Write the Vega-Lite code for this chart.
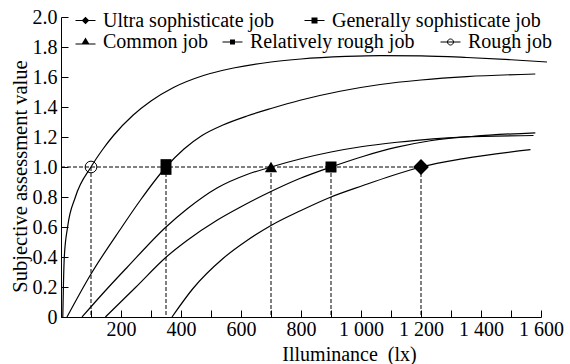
{
  "$schema": "https://vega.github.io/schema/vega-lite/v6.json",
  "width": 480,
  "height": 300,
  "autosize": "none",
  "padding": {"left": 61, "top": 17, "right": 29, "bottom": 47},
  "background": "white",
  "config": {
    "view": {"stroke": null},
    "font": "Liberation Serif",
    "axis": {
      "labelFont": "Liberation Serif",
      "labelFontSize": 20,
      "labelColor": "black",
      "titleFont": "Liberation Serif",
      "titleFontSize": 20,
      "titleFontWeight": "normal",
      "titleColor": "black",
      "domainColor": "black",
      "domainWidth": 1,
      "tickColor": "black",
      "tickWidth": 1,
      "tickSize": -7,
      "grid": false
    },
    "legend": {
      "padding": 0,
      "labelFont": "Liberation Serif",
      "labelFontSize": 20,
      "labelColor": "black",
      "labelOffset": 7,
      "labelLimit": 400,
      "symbolSize": 400,
      "symbolStrokeWidth": 1,
      "symbolOpacity": 1
    }
  },
  "datasets": {
    "curves": [
      {"job": "Rough job", "x": 6, "y": 0},
      {"job": "Rough job", "x": 8, "y": 0.2},
      {"job": "Rough job", "x": 11, "y": 0.4},
      {"job": "Rough job", "x": 22, "y": 0.6},
      {"job": "Rough job", "x": 48, "y": 0.8},
      {"job": "Rough job", "x": 100, "y": 1.0},
      {"job": "Rough job", "x": 140, "y": 1.12},
      {"job": "Rough job", "x": 175, "y": 1.21},
      {"job": "Rough job", "x": 240, "y": 1.345},
      {"job": "Rough job", "x": 300, "y": 1.44},
      {"job": "Rough job", "x": 375, "y": 1.53},
      {"job": "Rough job", "x": 475, "y": 1.61},
      {"job": "Rough job", "x": 575, "y": 1.66},
      {"job": "Rough job", "x": 700, "y": 1.7},
      {"job": "Rough job", "x": 800, "y": 1.72},
      {"job": "Rough job", "x": 950, "y": 1.737},
      {"job": "Rough job", "x": 1064, "y": 1.743},
      {"job": "Rough job", "x": 1200, "y": 1.741},
      {"job": "Rough job", "x": 1353, "y": 1.73},
      {"job": "Rough job", "x": 1500, "y": 1.715},
      {"job": "Rough job", "x": 1620, "y": 1.7},
      {"job": "Generally sophisticate job", "x": 20, "y": 0},
      {"job": "Generally sophisticate job", "x": 98, "y": 0.28},
      {"job": "Generally sophisticate job", "x": 203, "y": 0.6},
      {"job": "Generally sophisticate job", "x": 265, "y": 0.78},
      {"job": "Generally sophisticate job", "x": 350, "y": 1.0},
      {"job": "Generally sophisticate job", "x": 410, "y": 1.12},
      {"job": "Generally sophisticate job", "x": 470, "y": 1.21},
      {"job": "Generally sophisticate job", "x": 540, "y": 1.28},
      {"job": "Generally sophisticate job", "x": 620, "y": 1.34},
      {"job": "Generally sophisticate job", "x": 700, "y": 1.39},
      {"job": "Generally sophisticate job", "x": 797, "y": 1.445},
      {"job": "Generally sophisticate job", "x": 930, "y": 1.505},
      {"job": "Generally sophisticate job", "x": 1064, "y": 1.55},
      {"job": "Generally sophisticate job", "x": 1200, "y": 1.58},
      {"job": "Generally sophisticate job", "x": 1353, "y": 1.603},
      {"job": "Generally sophisticate job", "x": 1581, "y": 1.62},
      {"job": "Common job", "x": 70, "y": 0},
      {"job": "Common job", "x": 150, "y": 0.18},
      {"job": "Common job", "x": 220, "y": 0.33},
      {"job": "Common job", "x": 350, "y": 0.6},
      {"job": "Common job", "x": 420, "y": 0.72},
      {"job": "Common job", "x": 520, "y": 0.86},
      {"job": "Common job", "x": 620, "y": 0.95},
      {"job": "Common job", "x": 700, "y": 1.0},
      {"job": "Common job", "x": 800, "y": 1.055},
      {"job": "Common job", "x": 900, "y": 1.1},
      {"job": "Common job", "x": 1000, "y": 1.135},
      {"job": "Common job", "x": 1120, "y": 1.165},
      {"job": "Common job", "x": 1240, "y": 1.188},
      {"job": "Common job", "x": 1340, "y": 1.2},
      {"job": "Common job", "x": 1575, "y": 1.21},
      {"job": "Relatively rough job", "x": 148, "y": 0},
      {"job": "Relatively rough job", "x": 250, "y": 0.2},
      {"job": "Relatively rough job", "x": 351, "y": 0.4},
      {"job": "Relatively rough job", "x": 420, "y": 0.51},
      {"job": "Relatively rough job", "x": 520, "y": 0.645},
      {"job": "Relatively rough job", "x": 600, "y": 0.735},
      {"job": "Relatively rough job", "x": 698, "y": 0.835},
      {"job": "Relatively rough job", "x": 798, "y": 0.925},
      {"job": "Relatively rough job", "x": 900, "y": 1.0},
      {"job": "Relatively rough job", "x": 1009, "y": 1.072},
      {"job": "Relatively rough job", "x": 1120, "y": 1.132},
      {"job": "Relatively rough job", "x": 1231, "y": 1.175},
      {"job": "Relatively rough job", "x": 1375, "y": 1.205},
      {"job": "Relatively rough job", "x": 1581, "y": 1.228},
      {"job": "Ultra sophisticate job", "x": 370, "y": 0},
      {"job": "Ultra sophisticate job", "x": 440, "y": 0.19},
      {"job": "Ultra sophisticate job", "x": 540, "y": 0.39},
      {"job": "Ultra sophisticate job", "x": 620, "y": 0.51},
      {"job": "Ultra sophisticate job", "x": 700, "y": 0.61},
      {"job": "Ultra sophisticate job", "x": 800, "y": 0.71},
      {"job": "Ultra sophisticate job", "x": 900, "y": 0.8},
      {"job": "Ultra sophisticate job", "x": 1009, "y": 0.878},
      {"job": "Ultra sophisticate job", "x": 1100, "y": 0.94},
      {"job": "Ultra sophisticate job", "x": 1200, "y": 1.0},
      {"job": "Ultra sophisticate job", "x": 1342, "y": 1.056},
      {"job": "Ultra sophisticate job", "x": 1565, "y": 1.116}
    ],
    "markers": [
      {"job": "Rough job", "x": 100, "y": 1},
      {"job": "Generally sophisticate job", "x": 350, "y": 1},
      {"job": "Common job", "x": 700, "y": 1},
      {"job": "Relatively rough job", "x": 900, "y": 1},
      {"job": "Ultra sophisticate job", "x": 1200, "y": 1}
    ],
    "hguide": [
      {"x": 0, "x2": 1200, "y": 1}
    ]
  },
  "encoding": {
    "x": {
      "field": "x", "type": "quantitative",
      "scale": {"domain": [0, 1600], "nice": false, "zero": false},
      "axis": {
        "values": [0, 100, 200, 300, 400, 500, 600, 700, 800, 900, 1000, 1100, 1200, 1300, 1400, 1500, 1600],
        "labelExpr": "datum.value > 0 && datum.value % 200 == 0 ? replace(format(datum.value, ','), ',', ' ') : ''",
        "labelPadding": 9,
        "labelOverlap": false,
        "labelFlush": false,
        "title": "Illuminance\u2002(lx)",
        "titleX": 288,
        "titleY": 43,
        "titleAlign": "center",
        "titleBaseline": "alphabetic"
      }
    },
    "y": {
      "field": "y", "type": "quantitative",
      "scale": {"domain": [0, 2], "nice": false, "zero": false},
      "axis": {
        "values": [0, 0.2, 0.4, 0.6, 0.8, 1.0, 1.2, 1.4, 1.6, 1.8, 2.0],
        "labelExpr": "datum.value == 0 ? '0' : format(datum.value, '.1f')",
        "labelPadding": 11,
        "labelOverlap": false,
        "labelFlush": false,
        "labelSeparation": 0,
        "title": "Subjective assessment value",
        "titleFontSize": 20.5,
        "titleX": -41,
        "titleY": 159,
        "titleAngle": -90,
        "titleAlign": "center",
        "titleBaseline": "middle"
      }
    }
  },
  "layer": [
    {
      "data": {"name": "curves"},
      "mark": {"type": "line", "color": "black", "strokeWidth": 1.2, "interpolate": "monotone"},
      "encoding": {
        "detail": {"field": "job", "type": "nominal"}
      }
    },
    {
      "data": {"name": "hguide"},
      "mark": {"type": "rule", "color": "black", "strokeWidth": 1, "strokeDash": [4, 2]},
      "encoding": {
        "x2": {"field": "x2"}
      }
    },
    {
      "data": {"name": "markers"},
      "mark": {"type": "rule", "color": "black", "strokeWidth": 1, "strokeDash": [4, 2]},
      "encoding": {
        "y2": {"datum": 0}
      }
    },
    {
      "data": {"name": "markers"},
      "transform": [{"filter": "datum.job == 'Ultra sophisticate job'"}],
      "mark": {"type": "point", "shape": "diamond", "filled": true, "color": "black", "opacity": 1, "size": 250},
      "encoding": {}
    },
    {
      "data": {"name": "markers"},
      "transform": [{"filter": "datum.job == 'Generally sophisticate job'"}],
      "mark": {"type": "point", "shape": "M-0.7,-1L0.7,-1L0.7,1L-0.7,1Z", "filled": true, "color": "black", "opacity": 1, "size": 246},
      "encoding": {}
    },
    {
      "data": {"name": "markers"},
      "transform": [{"filter": "datum.job == 'Common job'"}],
      "mark": {"type": "point", "shape": "triangle-up", "filled": true, "color": "black", "opacity": 1, "size": 150},
      "encoding": {}
    },
    {
      "data": {"name": "markers"},
      "transform": [{"filter": "datum.job == 'Relatively rough job'"}],
      "mark": {"type": "point", "shape": "square", "filled": true, "color": "black", "opacity": 1, "size": 121},
      "encoding": {}
    },
    {
      "data": {"name": "markers"},
      "transform": [{"filter": "datum.job == 'Rough job'"}],
      "mark": {"type": "point", "shape": "circle", "filled": false, "color": "black", "opacity": 1, "size": 137, "strokeWidth": 1},
      "encoding": {}
    },
    {
      "data": {"name": "markers"},
      "transform": [{"filter": "false"}],
      "mark": {"type": "point", "filled": true, "color": "black", "opacity": 1},
      "encoding": {
        "shape": {
          "field": "job", "type": "nominal",
          "scale": {"domain": ["Ultra sophisticate job"], "range": ["M-1,-0.05L1,-0.05L1,0.05L-1,0.05ZM0,-0.38L0.38,0L0,0.38L-0.38,0Z"]},
          "legend": {"orient": "none", "legendX": 14, "legendY": -7, "title": null, "symbolFillColor": "black"}
        }
      }
    },
    {
      "data": {"name": "markers"},
      "transform": [{"filter": "false"}],
      "mark": {"type": "point", "filled": true, "color": "black", "opacity": 1},
      "encoding": {
        "shape": {
          "field": "job", "type": "nominal",
          "scale": {"domain": ["Generally sophisticate job"], "range": ["M-1,-0.05L1,-0.05L1,0.05L-1,0.05ZM-0.3,-0.3L0.3,-0.3L0.3,0.3L-0.3,0.3Z"]},
          "legend": {"orient": "none", "legendX": 243, "legendY": -7, "title": null, "symbolFillColor": "black"}
        }
      }
    },
    {
      "data": {"name": "markers"},
      "transform": [{"filter": "false"}],
      "mark": {"type": "point", "filled": true, "color": "black", "opacity": 1},
      "encoding": {
        "shape": {
          "field": "job", "type": "nominal",
          "scale": {"domain": ["Common job"], "range": ["M-1,0.15L1,0.15L1,0.25L-1,0.25ZM0,-0.45L0.42,0.25L-0.42,0.25Z"]},
          "legend": {"orient": "none", "legendX": 14, "legendY": 14.5, "title": null, "symbolFillColor": "black"}
        }
      }
    },
    {
      "data": {"name": "markers"},
      "transform": [{"filter": "false"}],
      "mark": {"type": "point", "filled": true, "color": "black", "opacity": 1},
      "encoding": {
        "shape": {
          "field": "job", "type": "nominal",
          "scale": {"domain": ["Relatively rough job"], "range": ["M-1,-0.05L1,-0.05L1,0.05L-1,0.05ZM-0.25,-0.25L0.25,-0.25L0.25,0.25L-0.25,0.25Z"]},
          "legend": {"orient": "none", "legendX": 161, "legendY": 14.5, "title": null, "symbolFillColor": "black"}
        }
      }
    },
    {
      "data": {"name": "markers"},
      "transform": [{"filter": "false"}],
      "mark": {"type": "point", "filled": false, "color": "black", "strokeWidth": 1, "opacity": 1},
      "encoding": {
        "shape": {
          "field": "job", "type": "nominal",
          "scale": {"domain": ["Rough job"], "range": ["M-1,0L1,0M0.3,0A0.3,0.3,0,1,1,-0.3,0A0.3,0.3,0,1,1,0.3,0"]},
          "legend": {"orient": "none", "legendX": 379, "legendY": 14.5, "title": null, "symbolStrokeColor": "black"}
        }
      }
    }
  ],
  "resolve": {"scale": {"shape": "independent"}}
}
